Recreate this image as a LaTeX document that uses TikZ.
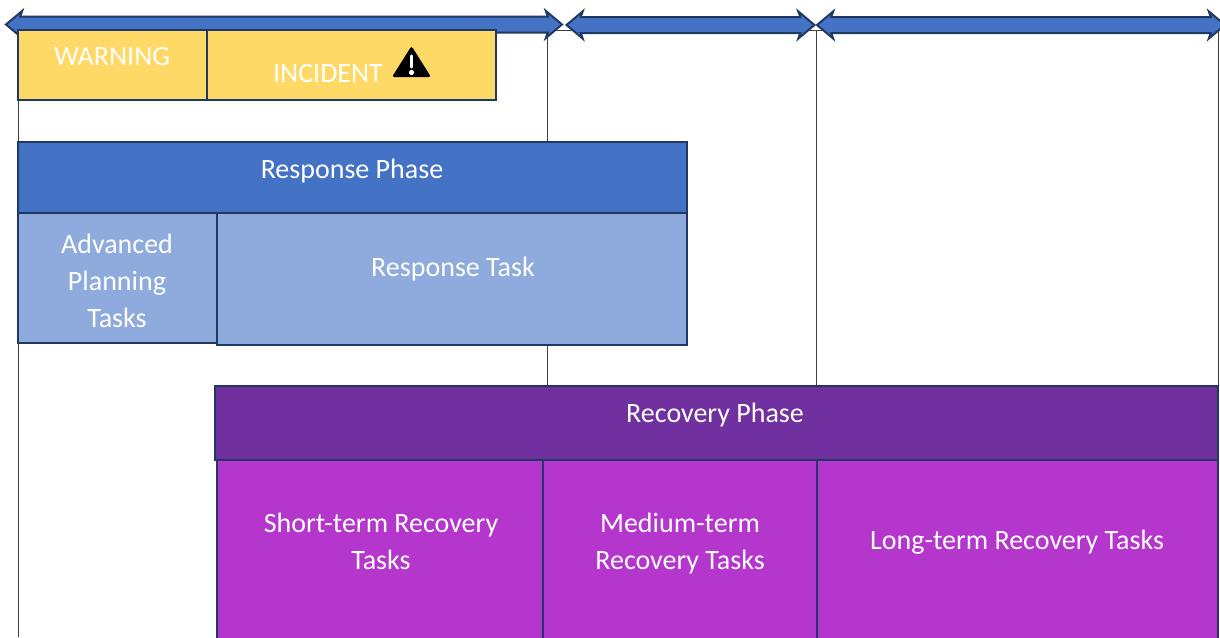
\documentclass[tikz,border=0pt]{standalone}
\usepackage{fontspec}
\setmainfont{Carlito}
\usetikzlibrary{positioning,fit,shapes.arrows}
\definecolor{navy}{HTML}{1F3864}
\definecolor{warnyellow}{HTML}{FFD966}
\definecolor{phaseblue}{HTML}{4472C4}
\definecolor{taskblue}{HTML}{8FAADC}
\definecolor{phasepurple}{HTML}{7030A0}
\definecolor{taskpurple}{HTML}{B436CD}
\tikzset{
  box/.style={draw=navy, line width=1pt, inner sep=0pt},
  lbl/.style={text=white, font=\fontsize{14}{18.5}\selectfont, align=center, inner sep=0pt},
  grid/.style={draw=black!75, line width=0.5pt},
  span/.style={double arrow, draw=navy, line width=1pt, fill=phaseblue, inner sep=3.5pt,
    double arrow head extend=2.8pt, minimum width=12.5pt, double arrow tip angle=80,
    double arrow head indent=1pt}
}
\begin{document}
\begin{tikzpicture}[x=0.5pt, y=-0.5pt]
  \useasboundingbox[fill=white] (0,0) rectangle (1220,637);
  % time grid
  \draw[grid] (18,30) -- (1218,30);
  \draw[grid] (18,30) -- (18,637);
  \draw[grid] (547,30) -- (547,386);
  \draw[grid] (816,30) -- (816,386);
  \draw[grid] (1218,30) -- (1218,386);
  % spans
  \node[span, minimum height=278pt] (spanA) at (284,24.5) {};
  \node[span, minimum height=124pt] (spanB) at (690.5,25) {};
  \node[span, minimum height=204pt] (spanC) at (1021,25) {};
  % warning and incident
  \node[box, fill=warnyellow, fit={(18,30) (207,100)}] (warn) {};
  \node[box, fill=warnyellow, fit={(207,30) (496,100)}] (inc) {};
  \node[lbl] (warnL) at (112,57) {WARNING};
  \node[lbl] (incL) at (328,74) {INCIDENT};
  \fill[rounded corners=1.2pt] (392,77) -- (411.5,46) -- (431,77) -- cycle;
  \draw[white, line width=1.6pt, line cap=round] (411.5,56) -- (411.5,67);
  \fill[white] (411.5,72.5) circle (1.3pt);
  % response phase
  \node[box, fill=phaseblue, fit={(18,142) (687,213)}] (resp) {};
  \node[box, fill=taskblue, fit={(18,213) (217,343)}] (adv) {};
  \node[box, fill=taskblue, fit={(217,213) (687,345)}] (rtask) {};
  \node[lbl] (respL) at (352,171) {Response Phase};
  \node[lbl] (advL) at (117,281) {Advanced\\Planning\\Tasks};
  \node[lbl] (rtaskL) at (453,269) {Response Task};
  % recovery phase
  \node[box, fill=phasepurple, fit={(215,386) (1218,460)}] (rec) {};
  \node[box, fill=taskpurple, fit={(217,460) (543,645)}] (shortT) {};
  \node[box, fill=taskpurple, fit={(543,460) (817,645)}] (medT) {};
  \node[box, fill=taskpurple, fit={(817,460) (1218,645)}] (longT) {};
  \node[lbl] (recL) at (715,415) {Recovery Phase};
  \node[lbl] (shortL) at (381,541) {Short-term Recovery\\Tasks};
  \node[lbl] (medL) at (680,543.5) {Medium-term\\Recovery Tasks};
  \node[lbl] (longL) at (1017,542) {Long-term Recovery Tasks};
\end{tikzpicture}
\end{document}
